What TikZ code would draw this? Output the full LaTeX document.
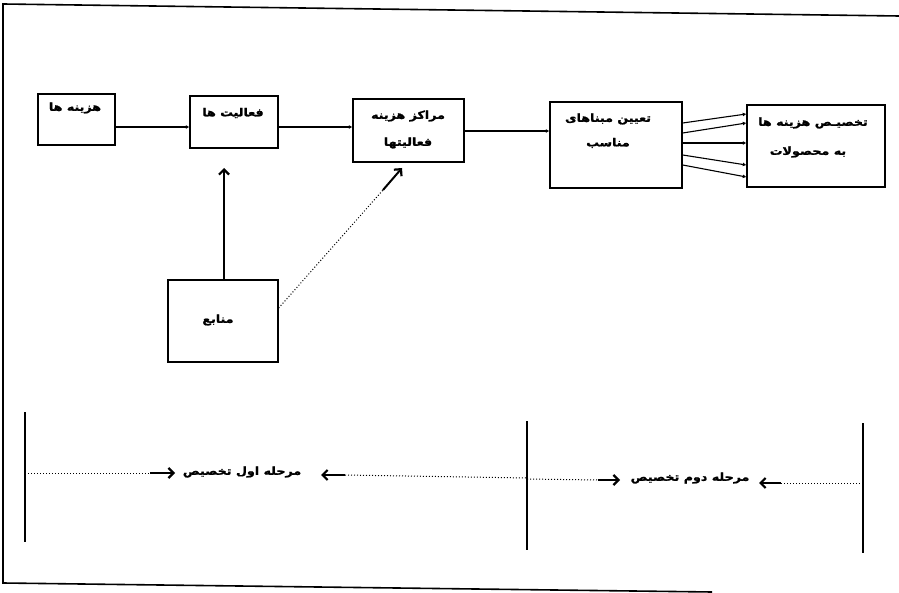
\documentclass[tikz,border=0pt]{standalone}
\usepackage{fontspec}
\newfontfamily\arabicfont[Script=Arabic,BoldFeatures={FakeBold=1.5},FakeStretch=1.15]{DejaVu Sans}
\TeXXeTstate=1
\usetikzlibrary{arrows.meta}
\begin{document}
\begin{tikzpicture}[x=1pt,y=-1pt,
  box/.style={draw,line width=1.4pt,inner sep=0pt},
  lbl/.style={font=\arabicfont\bfseries\fontsize{11}{13}\selectfont,inner sep=0pt},
  flow/.style={line width=1.1pt,-{Latex[length=3.5pt,width=4pt]}},
  barb/.style={line width=2pt,-{Straight Barb[length=5pt,width=10pt,line width=2.2pt]}},
  dots/.style={line width=1pt,dotted},
  bar/.style={line width=1.8pt}]
\useasboundingbox (0,0) rectangle (899,593);
% frame of the scanned page
\draw[line width=1.6pt] (899,16) -- (3,4) -- (3,583) -- (712,592);
% boxes
\node[box,minimum width=77pt,minimum height=51pt] (b1) at (76.5,119.5) {};
\node[box,minimum width=88pt,minimum height=52pt] (b2) at (234,122) {};
\node[box,minimum width=111pt,minimum height=63pt] (b3) at (408.5,130.5) {};
\node[box,minimum width=132pt,minimum height=86pt] (b4) at (616,145) {};
\node[box,minimum width=138pt,minimum height=82pt] (b5) at (816,146) {};
\node[box,minimum width=110pt,minimum height=82pt] (b6) at (223,321) {};
% texts
\node[lbl] (t1) at (75,108) {\beginR هزینه ها\endR};
\node[lbl] (t2) at (233,113) {\beginR فعالیت ها\endR};
\node[lbl] (t3a) at (408,116) {\beginR مراکز هزینه\endR};
\node[lbl] (t3b) at (408,143) {\beginR فعالیتها\endR};
\node[lbl] (t4a) at (608,119) {\beginR تعیین مبناهای\endR};
\node[lbl] (t4b) at (608,143) {\beginR مناسب\endR};
\node[lbl] (t5a) at (813,123) {\beginR تخصیـص هزینه ها\endR};
\node[lbl] (t5b) at (808,152) {\beginR به محصولات\endR};
\node[lbl] (t6) at (218,320) {\beginR منابع\endR};
% connectors
\draw[flow] (b1.east |- 0,127) -- (b2.west |- 0,127);
\draw[flow] (b2.east |- 0,127) -- (b3.west |- 0,127);
\draw[flow] (b3.east |- 0,131) -- (b4.west |- 0,131);
\draw[flow] (b4.east |- 0,123) -- (b5.west |- 0,114);
\draw[flow] (b4.east |- 0,133) -- (b5.west |- 0,123);
\draw[flow] (b4.east |- 0,143) -- (b5.west |- 0,143);
\draw[flow] (b4.east |- 0,155) -- (b5.west |- 0,165);
\draw[flow] (b4.east |- 0,165) -- (b5.west |- 0,177);
\coordinate (up) at (224,168);
\draw[barb,line width=1.6pt] (b6.north -| up) -- (up);
\coordinate (dA) at (b6.east |- 0,308);
\coordinate (dB) at (383,190);
\coordinate (dC) at (402,168);
\draw[dots] (dA) -- (dB);
\draw[barb] (dB) -- (dC);
% phase markers
\coordinate (v1t) at (25,412); \coordinate (v1b) at (25,542);
\coordinate (v2t) at (527,421); \coordinate (v2b) at (527,550);
\coordinate (v3t) at (863,423); \coordinate (v3b) at (863,553);
\draw[bar] (v1t) -- (v1b);
\draw[bar] (v2t) -- (v2b);
\draw[bar] (v3t) -- (v3b);
\node[lbl] (p1) at (242,472) {\beginR مرحله اول تخصیص\endR};
\node[lbl] (p2) at (690,478) {\beginR مرحله دوم تخصیص\endR};
\coordinate (a1) at (150,473); \coordinate (a1t) at (175,473);
\coordinate (a2) at (345,475); \coordinate (a2t) at (321,475);
\coordinate (a3) at (598,480); \coordinate (a3t) at (620,480);
\coordinate (a4) at (781,483); \coordinate (a4t) at (759,483);
\draw[dots] (v1t |- a1) -- (a1);
\draw[barb] (a1) -- (a1t);
\draw[dots] (a2) -- (v2t |- 0,478);
\draw[barb] (a2) -- (a2t);
\draw[dots] (v2t |- 0,479) -- (a3);
\draw[barb] (a3) -- (a3t);
\draw[dots] (a4) -- (v3t |- a4);
\draw[barb] (a4) -- (a4t);
\end{tikzpicture}
\end{document}
